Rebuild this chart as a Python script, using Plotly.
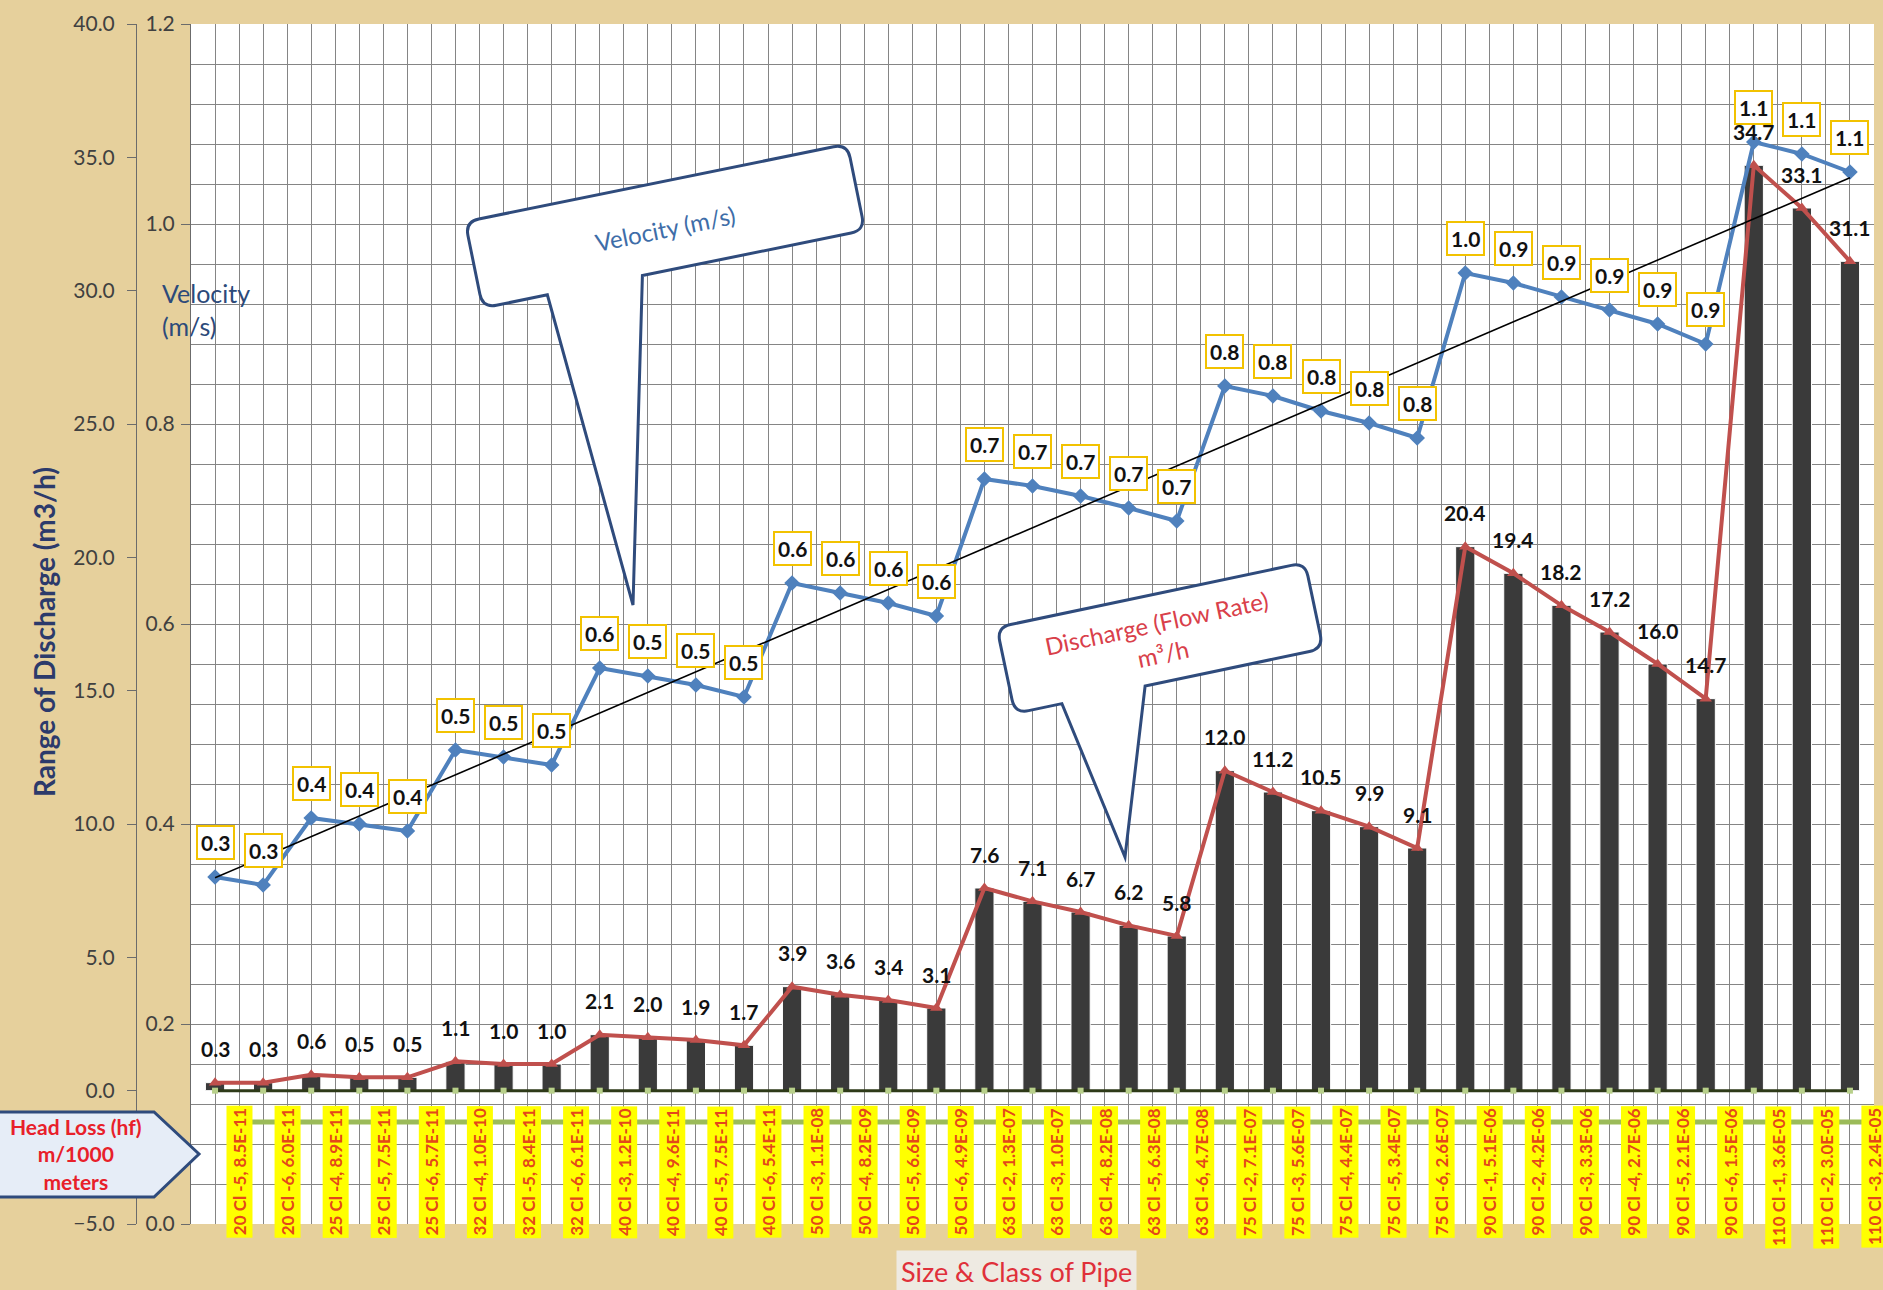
import numpy as np
import plotly.graph_objects as go

# ---------------- data ----------------
sizes = [20, 20, 25, 25, 25, 32, 32, 32, 40, 40, 40, 40, 50, 50, 50, 50,
         63, 63, 63, 63, 63, 75, 75, 75, 75, 75, 90, 90, 90, 90, 90, 90,
         110, 110, 110]
classes = [5, 6, 4, 5, 6, 4, 5, 6, 3, 4, 5, 6, 3, 4, 5, 6,
           2, 3, 4, 5, 6, 2, 3, 4, 5, 6, 1, 2, 3, 4, 5, 6,
           1, 2, 3]
head_loss = [8.5e-11, 6.0e-11, 8.9e-11, 7.5e-11, 5.7e-11, 1.0e-10, 8.4e-11, 6.1e-11,
             1.2e-10, 9.6e-11, 7.5e-11, 5.4e-11, 1.1e-08, 8.2e-09, 6.6e-09, 4.9e-09,
             1.3e-07, 1.0e-07, 8.2e-08, 6.3e-08, 4.7e-08, 7.1e-07, 5.6e-07, 4.4e-07,
             3.4e-07, 2.6e-07, 5.1e-06, 4.2e-06, 3.3e-06, 2.7e-06, 2.1e-06, 1.5e-06,
             3.6e-05, 3.0e-05, 2.4e-05]
discharge = [0.3, 0.3, 0.6, 0.5, 0.5, 1.1, 1.0, 1.0, 2.1, 2.0, 1.9, 1.7,
             3.9, 3.6, 3.4, 3.1, 7.6, 7.1, 6.7, 6.2, 5.8,
             12.0, 11.2, 10.5, 9.9, 9.1, 20.4, 19.4, 18.2, 17.2, 16.0, 14.7,
             34.7, 33.1, 31.1]
velocity = [0.347, 0.339, 0.406, 0.400, 0.393, 0.474, 0.467, 0.459,
            0.556, 0.548, 0.539, 0.527, 0.641, 0.631, 0.621, 0.608,
            0.745, 0.738, 0.728, 0.716, 0.703, 0.838, 0.828, 0.813, 0.801, 0.786,
            0.951, 0.941, 0.927, 0.914, 0.900, 0.880, 1.082, 1.070, 1.052]
pipe_labels = [f"{s} Cl -{c}, {h:.1E}" for s, c, h in zip(sizes, classes, head_loss)]

n = len(discharge)
xs = list(range(n))
slope, icpt = np.polyfit(xs, velocity, 1)
trend = [slope * x + icpt for x in xs]

# ---------------- geometry helpers (pixel -> paper) ----------------
W, H = 1883, 1290
ML, MR, MT, MB = 0, 9, 24, 66
PW = W - ML - MR
PH = H - MT - MB
Y_BOTTOM = H - MB


def px(x, y):
    return (x - ML) / PW, (Y_BOTTOM - y) / PH


def fmt(p):
    a, b = px(p[0], p[1])
    return f"{a:.5f},{b:.5f}"


def callout_path(cx, cy, w, h, ang, s1, s2, tip, r=14):
    a = np.radians(ang)
    u = np.array([np.cos(a), -np.sin(a)])
    v = np.array([np.sin(a), np.cos(a)])
    c = np.array([cx, cy])
    TL = c - w / 2 * u - h / 2 * v
    TR = c + w / 2 * u - h / 2 * v
    BR = c + w / 2 * u + h / 2 * v
    BL = c - w / 2 * u + h / 2 * v
    t = np.array(tip)
    p = "M " + fmt(TL + r * u)
    p += " L " + fmt(TR - r * u) + " Q " + fmt(TR) + " " + fmt(TR + r * v)
    p += " L " + fmt(BR - r * v) + " Q " + fmt(BR) + " " + fmt(BR - r * u)
    p += " L " + fmt(BL + s2 * u) + " L " + fmt(t) + " L " + fmt(BL + s1 * u)
    p += " L " + fmt(BL + r * u) + " Q " + fmt(BL) + " " + fmt(BL - r * v)
    p += " L " + fmt(TL + r * v) + " Q " + fmt(TL) + " " + fmt(TL + r * u) + " Z"
    return p


FONT = "Lato"
NAVY = "#2F4B7C"

fig = go.Figure()

# bars
fig.add_trace(go.Bar(x=xs, y=discharge, width=0.4,
                     marker=dict(color="#3a3a3a", line=dict(color="white", width=1)),
                     yaxis="y", xaxis="x", showlegend=False))
# discharge line
fig.add_trace(go.Scatter(x=xs, y=discharge, mode="lines+markers", yaxis="y", xaxis="x",
                         line=dict(color="#C0504D", width=4),
                         marker=dict(symbol="triangle-up", size=11, color="#C0504D"), showlegend=False))
# head loss on primary axis (~0)
fig.add_trace(go.Scatter(x=xs, y=head_loss, mode="lines+markers", yaxis="y", xaxis="x",
                         line=dict(color="#2E3A18", width=3),
                         marker=dict(symbol="square", size=6, color="#B8D08A"), showlegend=False))
# velocity
fig.add_trace(go.Scatter(x=xs, y=velocity, mode="lines+markers", yaxis="y2", xaxis="x",
                         line=dict(color="#4F81BD", width=4),
                         marker=dict(symbol="diamond", size=12, color="#4F81BD"), showlegend=False))
# trendline
fig.add_trace(go.Scatter(x=xs, y=trend, mode="lines", yaxis="y2", xaxis="x",
                         line=dict(color="black", width=1.6), showlegend=False))
# head loss (green) on its own axis
fig.add_trace(go.Scatter(x=xs, y=head_loss, mode="lines+markers", yaxis="y3", xaxis="x2",
                         line=dict(color="#9BBB59", width=5),
                         marker=dict(symbol="diamond", size=13, color="#C3D69B",
                                     line=dict(color="#9BBB59", width=1)),
                         showlegend=False))

x0d, _ = px(191, 0)
ypos, _ = px(136, 0)

annotations = []
# discharge labels
for x, d in zip(xs, discharge):
    annotations.append(dict(x=x, y=d, xref="x", yref="y", text=f"{d:.1f}", showarrow=False,
                            yshift=34, font=dict(family=FONT, size=21, color="#111", weight="bold")))
# velocity labels
for x, v in zip(xs, velocity):
    annotations.append(dict(x=x, y=v, xref="x", yref="y2", text=f"{v:.1f}", showarrow=False,
                            yshift=35, bgcolor="white", bordercolor="#F2C200", borderwidth=2, borderpad=3,
                            font=dict(family=FONT, size=21, color="#111", weight="bold")))
# category labels
for x, lab in zip(xs, pipe_labels):
    annotations.append(dict(x=x + 0.5, y=-0.56, xref="x", yref="y", yanchor="top", xanchor="center",
                            text=lab, showarrow=False, textangle=-90, bgcolor="#FFFF00", borderpad=2,
                            font=dict(family=FONT, size=17, color="#E4471A", weight="bold")))


def paper_text(xp, yp, text, size, color, bold=False, angle=0, **kw):
    ax, ay = px(xp, yp)
    d = dict(x=ax, y=ay, xref="paper", yref="paper", text=text, textangle=angle, showarrow=False,
             xanchor=kw.pop("xanchor", "center"), yanchor=kw.pop("yanchor", "middle"),
             font=dict(family=FONT, size=size, color=color, weight="bold" if bold else "normal"))
    d.update(kw)
    annotations.append(d)


paper_text(44, 632, "Range of Discharge (m3/h)", 28, "#2C3A6B", bold=True, angle=-90)
paper_text(160, 309, "Velocity<br>(m/s)", 25, "#2C4A7A", xanchor="left", align="left")
paper_text(1017, 1271, "Size & Class of Pipe", 27, "#E0303A",
           bgcolor="rgba(238,238,238,0.85)", borderpad=4)
paper_text(76, 1154, "Head Loss (hf)<br>m/1000<br>meters", 21, "#E8202A", bold=True)
paper_text(665, 228, "Velocity (m/s)", 24, "#3E6DA8", angle=-11.5)
paper_text(1160, 638, "Discharge (Flow Rate)<br>m³/h", 24, "#D9404A", angle=-11.9)

shapes = [
    dict(type="path", xref="paper", yref="paper", layer="above",
         path=callout_path(665, 226, 390, 88, 11.5, 66, 163, (633, 605)),
         fillcolor="white", line=dict(color=NAVY, width=3)),
    dict(type="path", xref="paper", yref="paper", layer="above",
         path=callout_path(1160, 638, 315, 88, 11.9, 48, 133, (1125, 857)),
         fillcolor="white", line=dict(color=NAVY, width=3)),
    dict(type="path", xref="paper", yref="paper", layer="above",
         path="M " + fmt((-6, 1112)) + " L " + fmt((154, 1112)) + " L " + fmt((199, 1154)) +
              " L " + fmt((154, 1197)) + " L " + fmt((-6, 1197)) + " Z",
         fillcolor="#E6EDF7", line=dict(color=NAVY, width=3)),
]

GRID = "#858585"
fig.update_layout(
    width=W, height=H,
    margin=dict(l=ML, r=MR, t=MT, b=MB),
    paper_bgcolor="#E6D09C",
    plot_bgcolor="white",
    barmode="overlay",
    showlegend=False,
    font=dict(family=FONT),
    xaxis=dict(domain=[x0d, 1], range=[-0.5, 34.5], tick0=-0.5, dtick=0.5, showgrid=True,
               gridcolor=GRID, gridwidth=1, showticklabels=False, ticks="", zeroline=False,
               showline=False),
    xaxis2=dict(overlaying="x", range=[-1, 34], visible=False),
    yaxis=dict(anchor="free", position=ypos, side="left", range=[-5, 40], dtick=5, tickformat=".1f",
               showgrid=False, zeroline=False, showline=True, linecolor="#6b6b6b", linewidth=1,
               ticks="outside", ticklen=9, tickcolor="#6b6b6b", ticklabelstandoff=8,
               tickfont=dict(family=FONT, size=21, color="#404040")),
    yaxis2=dict(overlaying="y", anchor="x", side="left", range=[0, 1.2], dtick=0.2, tickformat=".1f",
                showgrid=True, gridcolor=GRID, gridwidth=1,
                minor=dict(dtick=0.04, showgrid=True, gridcolor=GRID, gridwidth=1),
                zeroline=False, showline=True, linecolor="#6b6b6b",
                ticks="outside", ticklen=9, tickcolor="#6b6b6b", ticklabelstandoff=2,
                tickfont=dict(family=FONT, size=21, color="#404040")),
    yaxis3=dict(overlaying="y", range=[-0.085, 0.915], visible=False),
    annotations=annotations,
    shapes=shapes,
)

fig.write_html("out.html")
